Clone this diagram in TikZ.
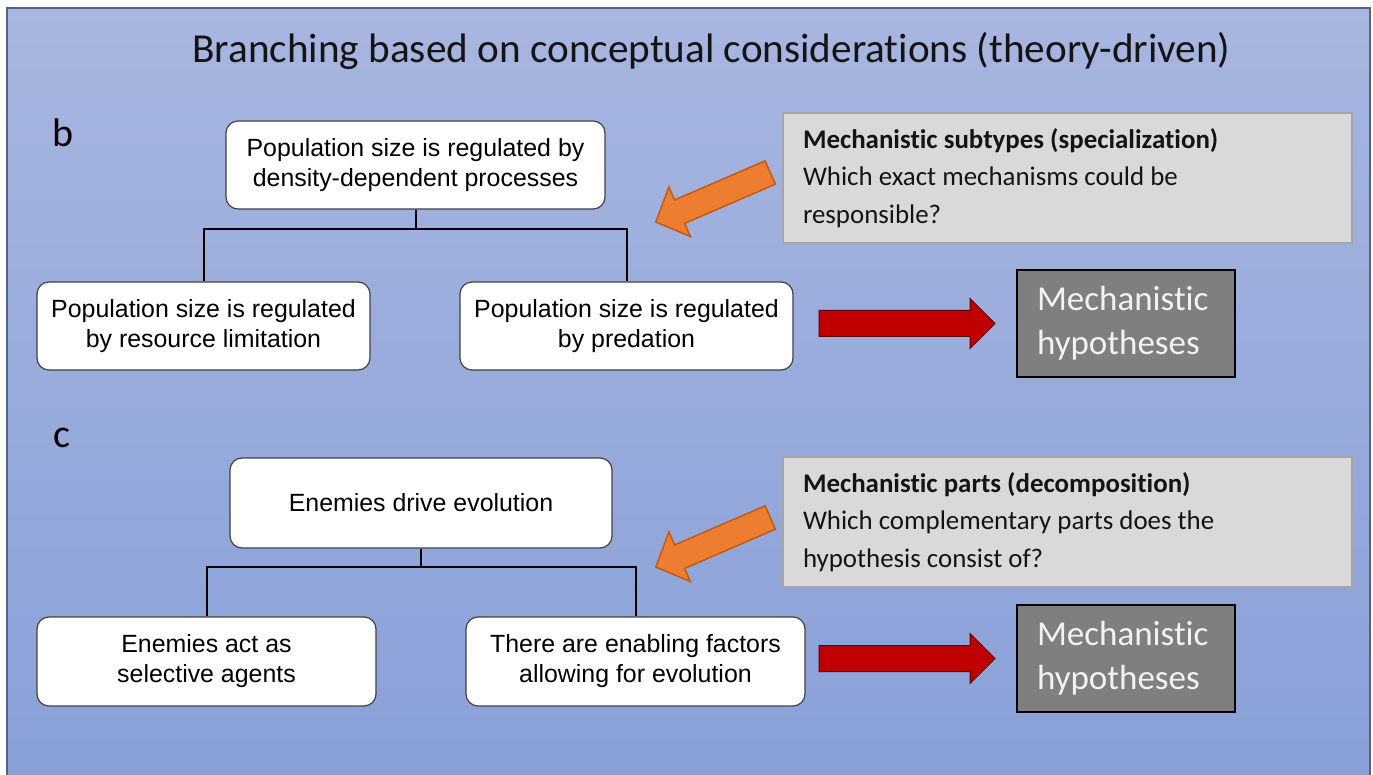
\documentclass[tikz,border=0pt]{standalone}
\usepackage{fontspec}
\setmainfont{Carlito}[Ligatures=NoCommon]
\newfontfamily\arialfont{Liberation Sans}
\usetikzlibrary{calc}

\definecolor{bgtop}{RGB}{168,182,224}
\definecolor{bgbot}{RGB}{137,160,216}
\definecolor{framec}{RGB}{82,98,132}
\definecolor{notefill}{RGB}{217,217,217}
\definecolor{notedraw}{RGB}{166,166,166}
\definecolor{hypfill}{RGB}{127,127,127}
\definecolor{orangefill}{RGB}{237,125,49}
\definecolor{orangedraw}{RGB}{197,90,17}
\definecolor{redfill}{RGB}{192,0,0}
\definecolor{reddraw}{RGB}{96,0,0}
\definecolor{boxdraw}{RGB}{64,64,64}

\tikzset{
  orangearrow/.pic={
    \draw[fill=orangefill, draw=orangedraw, line width=1.5pt]
      (0,0) -- (34.6,14.5) -- (28.9,1.4) -- (119.6,-37.8) -- (109.4,-61.2)
      -- (18.8,-22) -- (13.2,-35.1) -- cycle;
  },
  redarrow/.pic={
    \draw[fill=redfill, draw=reddraw, line width=1pt]
      (0,0) -- (-25,25) -- (-25,13) -- (-176,13) -- (-176,-13)
      -- (-25,-13) -- (-25,-25) -- cycle;
  }
}

\begin{document}
\begin{tikzpicture}[x=1pt, y=-1pt,
  claim/.style={draw=boxdraw, line width=1.2pt, fill=white, rounded corners=12pt,
    align=center, inner sep=0pt, text=black,
    font=\arialfont\fontsize{24.9}{30}\selectfont},
  note/.style={draw=notedraw, line width=2.5pt, fill=notefill,
    minimum width=569pt, minimum height=130pt, text width=529pt,
    align=flush left, inner sep=0pt, text=black!92,
    font=\fontsize{26.9}{37.5}\selectfont},
  hyp/.style={draw=black, line width=2pt, fill=hypfill,
    minimum width=218pt, minimum height=107pt, text width=178pt,
    align=flush left, inner sep=0pt, text=white!95!black,
    font=\fontsize{35}{44}\selectfont},
  branch/.style={line width=2pt, draw=black},
  panel/.style={font=\fontsize{40}{48}\selectfont, text=black, inner sep=0pt}
]
\useasboundingbox (0,0) rectangle (1373,775);

% background panel with its frame
\shade[top color=bgtop, bottom color=bgbot] (7,8) rectangle (1370,775);
\draw[framec, line width=2pt] (7,775) -- (7,8) -- (1370,8) -- (1370,775);

\node[inner sep=0pt, text=black!92] (title) at (711.5,51)
  {\fontsize{41.2}{48}\selectfont Branching based on conceptual considerations (theory-driven)};

% ---------- panel b ----------
\node[panel] (lblb) at (63.5,133) {b};

\node[claim, minimum width=379pt, minimum height=88pt] (btop) at (415.5,165)
  {Population size is regulated by\\density-dependent processes};
\node[claim, minimum width=333pt, minimum height=88pt] (bleft) at (203.5,326)
  {Population size is regulated\\by resource limitation};
\node[claim, minimum width=333pt, minimum height=88pt] (bright) at (626.5,326)
  {Population size is regulated\\by predation};

\draw[branch] (btop.south) -- ++(0,19) coordinate (bbar) -| (bleft.north);
\draw[branch] (bbar) -| (bright.north);

\node[note] (noteb) at (1067.5,178)
  {\textbf{Mechanistic subtypes (specialization)}\\Which exact mechanisms could be\\responsible?};
\node[hyp] (hypb) at (1126,323.5) {Mechanistic\\hypotheses};

\pic at ($(noteb.west)+(-126,44)$) {orangearrow};
\pic at ($(hypb.west)+(-21,0)$) {redarrow};

% ---------- panel c ----------
\node[panel] (lblc) at (62,438) {c};

\node[claim, minimum width=382pt, minimum height=90pt] (ctop) at (421,503)
  {Enemies drive evolution};
\node[claim, minimum width=339pt, minimum height=89pt] (cleft) at (206.5,661.5)
  {Enemies act as\\selective agents};
\node[claim, minimum width=339pt, minimum height=89pt] (cright) at (635.5,661.5)
  {There are enabling factors\\allowing for evolution};

\draw[branch] (ctop.south) -- ++(0,18) coordinate (cbar) -| (cleft.north);
\draw[branch] (cbar) -| (cright.north);

\node[note] (notec) at (1067.5,522)
  {\textbf{Mechanistic parts (decomposition)}\\Which complementary parts does the\\hypothesis consist of?};
\node[hyp] (hypc) at (1126,658.5) {Mechanistic\\hypotheses};

\pic at ($(notec.west)+(-126,45)$) {orangearrow};
\pic at ($(hypc.west)+(-21,0)$) {redarrow};
\end{tikzpicture}
\end{document}
